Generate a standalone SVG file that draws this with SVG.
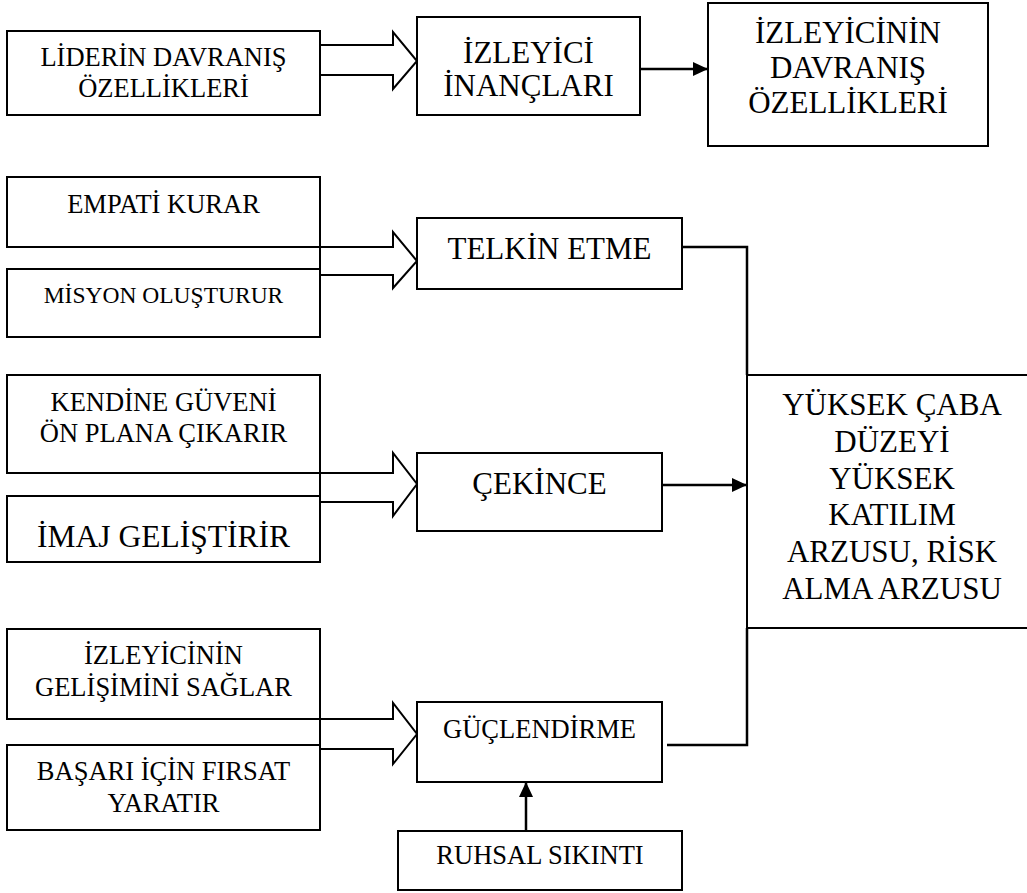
<svg xmlns="http://www.w3.org/2000/svg" width="1027" height="893" viewBox="0 0 1027 893" font-family="'Liberation Serif', 'Times New Roman', Times, serif">
<defs>
<style>
.box{fill:#fff;stroke:#000;stroke-width:2}
.blk{fill:#fff;stroke:#000;stroke-width:2;stroke-linejoin:miter}
.ln{fill:none;stroke:#000;stroke-width:2.5}
text{font-family:'Liberation Serif','Times New Roman',Times,serif;fill:#000;text-anchor:middle}
.s{font-size:26.5px}
.m{font-size:23.5px}
.l{font-size:31px}
</style>
<marker id="ah" viewBox="0 0 15 14" refX="15" refY="7" markerWidth="15" markerHeight="14" markerUnits="userSpaceOnUse" orient="auto">
<path d="M0,0 L15,7 L0,14 Z" fill="#000"/>
</marker>
</defs>
<g id="connectors">
<polygon class="blk" points="320,45 393,45 393,32 417,61 393,89 393,75 320,75"/>
<line class="ln" x1="640" y1="69" x2="708" y2="69" marker-end="url(#ah)"/>
<polygon class="blk" points="320,247 393,247 393,232 417,261 393,288 393,275 320,275"/>
<polygon class="blk" points="320,473 393,473 393,453 417,484 393,516 393,502 320,502"/>
<polygon class="blk" points="320,719 393,719 393,703 417,734 393,764 393,749 320,749"/>
<polyline class="ln" points="682,247 747,247 747,375"/>
<line class="ln" x1="662" y1="485" x2="747" y2="485" marker-end="url(#ah)"/>
<polyline class="ln" points="667,745 747,745 747,628"/>
<line class="ln" x1="526" y1="831" x2="526" y2="782" marker-end="url(#ah)"/>
</g>
<g id="n-lider">
<rect class="box" x="7" y="31" width="313" height="84"/>
<text class="s" x="163.5" y="66">LİDERİN DAVRANIŞ</text>
<text class="s" x="163.5" y="97">ÖZELLİKLERİ</text>
</g>
<g id="n-inanc">
<rect class="box" x="417" y="17" width="223" height="98"/>
<text class="l" x="528.5" y="63">İZLEYİCİ</text>
<text class="l" x="528.5" y="96">İNANÇLARI</text>
</g>
<g id="n-izleyici-davranis">
<rect class="box" x="708" y="3" width="280" height="143"/>
<text class="l" x="848" y="43">İZLEYİCİNİN</text>
<text class="l" x="848" y="78">DAVRANIŞ</text>
<text class="l" x="848" y="113">ÖZELLİKLERİ</text>
</g>
<g id="n-empati">
<rect class="box" x="7" y="177" width="313" height="70"/>
<text class="s" x="163.5" y="213">EMPATİ KURAR</text>
</g>
<g id="n-misyon">
<rect class="box" x="7" y="269" width="313" height="68"/>
<text class="m" x="163.5" y="303">MİSYON OLUŞTURUR</text>
</g>
<g id="n-telkin">
<rect class="box" x="417" y="218" width="265" height="71"/>
<text class="l" x="549.5" y="259">TELKİN ETME</text>
</g>
<g id="n-kendine">
<rect class="box" x="7" y="375" width="313" height="98"/>
<text class="s" x="163.5" y="411">KENDİNE GÜVENİ</text>
<text class="s" x="163.5" y="442">ÖN PLANA ÇIKARIR</text>
</g>
<g id="n-imaj">
<rect class="box" x="7" y="496" width="313" height="66"/>
<text class="l" x="163.5" y="547" style="font-size:31.5px">İMAJ GELİŞTİRİR</text>
</g>
<g id="n-cekince">
<rect class="box" x="417" y="453" width="245" height="78"/>
<text class="l" x="539.5" y="494">ÇEKİNCE</text>
</g>
<g id="n-sonuc">
<rect class="box" x="747" y="375" width="300" height="253"/>
<text class="l" x="892" y="415">YÜKSEK ÇABA</text>
<text class="l" x="892" y="452">DÜZEYİ</text>
<text class="l" x="892" y="489">YÜKSEK</text>
<text class="l" x="892" y="525">KATILIM</text>
<text class="l" x="892" y="562">ARZUSU, RİSK</text>
<text class="l" x="892" y="599">ALMA ARZUSU</text>
</g>
<g id="n-gelisim">
<rect class="box" x="7" y="629" width="313" height="90"/>
<text class="s" x="163.5" y="664">İZLEYİCİNİN</text>
<text class="s" x="163.5" y="696">GELİŞİMİNİ SAĞLAR</text>
</g>
<g id="n-basari">
<rect class="box" x="7" y="745" width="313" height="85"/>
<text class="s" x="163.5" y="780">BAŞARI İÇİN FIRSAT</text>
<text class="s" x="163.5" y="812">YARATIR</text>
</g>
<g id="n-guclendirme">
<rect class="box" x="417" y="702" width="245" height="80"/>
<text class="s" x="539.5" y="738">GÜÇLENDİRME</text>
</g>
<g id="n-ruhsal">
<rect class="box" x="398" y="831" width="284" height="59"/>
<text class="s" x="540" y="864">RUHSAL SIKINTI</text>
</g>
</svg>
